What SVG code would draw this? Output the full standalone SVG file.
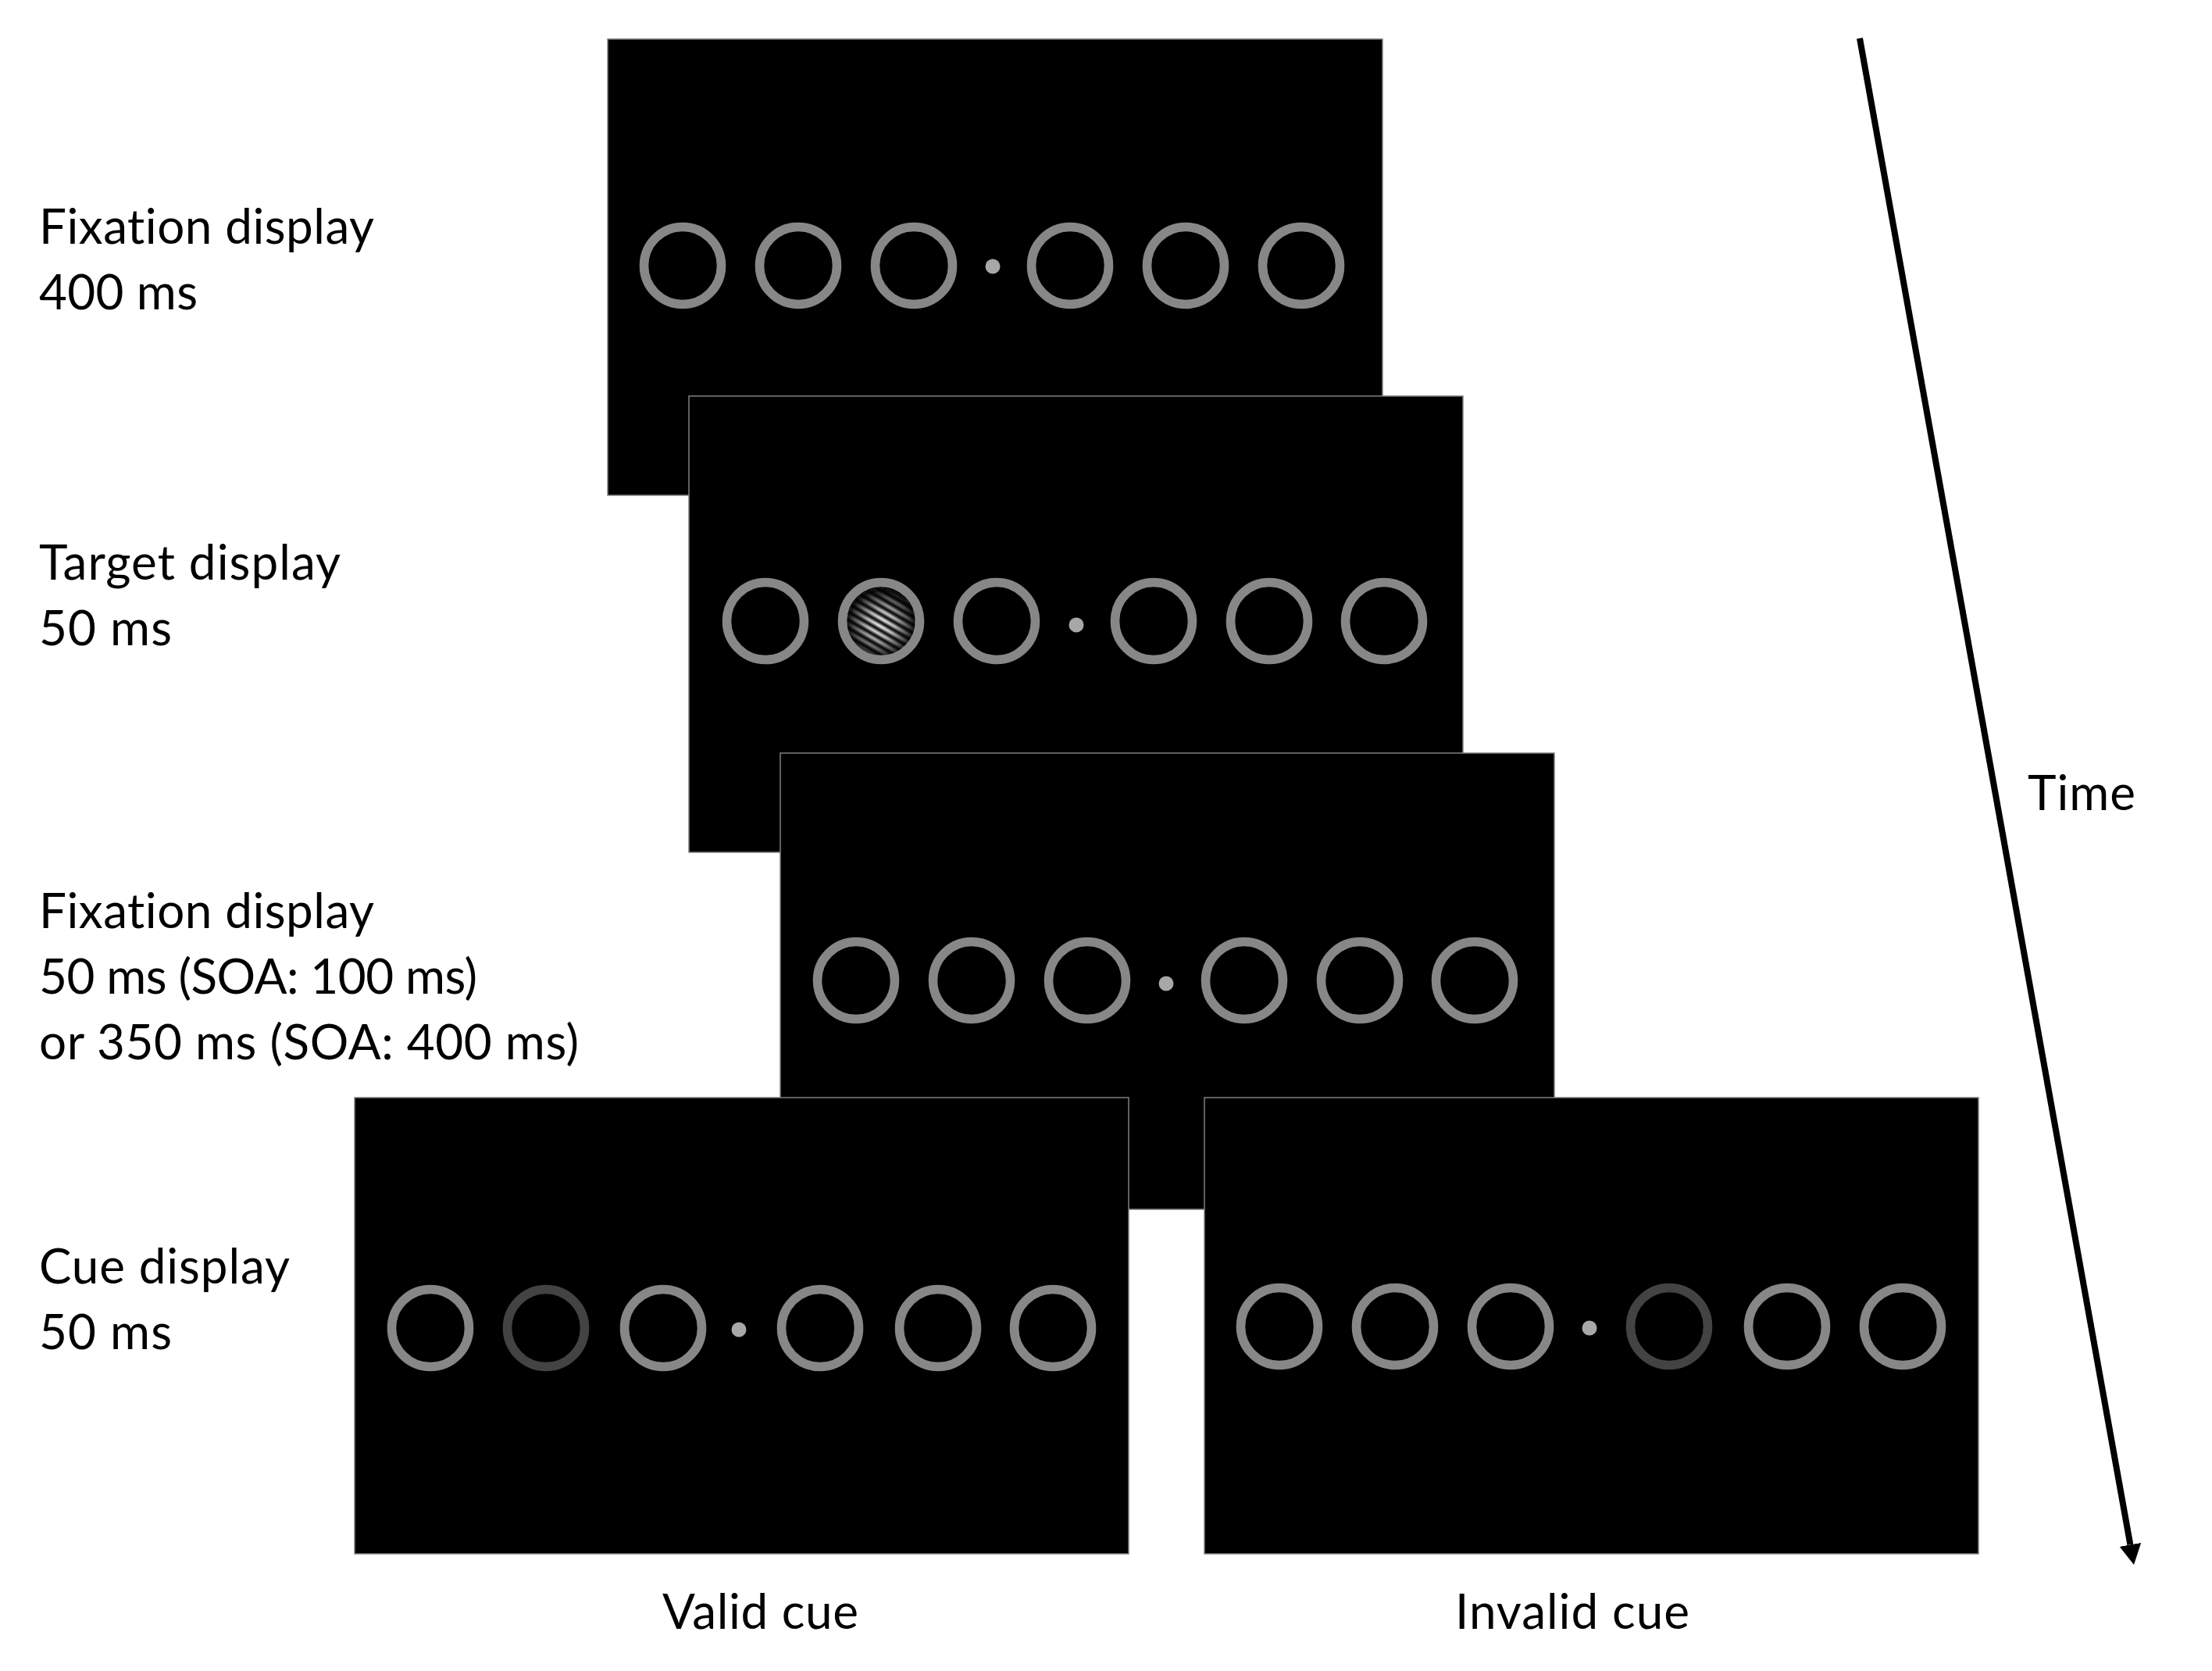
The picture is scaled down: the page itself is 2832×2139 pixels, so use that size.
<svg xmlns="http://www.w3.org/2000/svg" width="2832" height="2139" viewBox="0 0 2832 2139">
  <style>
    .screen { fill: #000000; stroke: #808080; stroke-width: 1.5; }
    .ring { fill: none; stroke: #878787; stroke-width: 11.6; }
    .ring-cue { fill: none; stroke: #434343; stroke-width: 11.6; }
    .dot { fill: #a8a8a8; }
    .label { font-family: Lato, "Open Sans", "Liberation Sans", sans-serif; font-weight: 400; font-size: 62px; fill: #000000; font-variant-ligatures: none; }
    .arrow { stroke: #000000; stroke-width: 8; fill: none; }
  </style>
  <defs>
    <marker id="arrowhead" markerUnits="userSpaceOnUse" viewBox="0 -14 26 28" refX="0" refY="0" markerWidth="26" markerHeight="28" orient="auto">
      <path d="M0,-14 L26,0 L0,14 z" fill="#000000"/>
    </marker>
    <linearGradient id="grating" gradientUnits="userSpaceOnUse" x1="246" y1="290" x2="250.5" y2="282.2" spreadMethod="repeat">
      <stop offset="0" stop-color="#000000"/>
      <stop offset="0.5" stop-color="#ffffff"/>
      <stop offset="1" stop-color="#000000"/>
    </linearGradient>
    <radialGradient id="envelope" gradientUnits="userSpaceOnUse" cx="246" cy="292" r="44">
      <stop offset="0" stop-color="#000000" stop-opacity="0"/>
      <stop offset="0.4" stop-color="#000000" stop-opacity="0.2"/>
      <stop offset="0.8" stop-color="#000000" stop-opacity="0.65"/>
      <stop offset="1" stop-color="#000000" stop-opacity="0.95"/>
    </radialGradient>
    <clipPath id="patchClip">
      <circle cx="246" cy="290" r="43.5"/>
    </clipPath>
  </defs>

  <!-- Panel 1: Fixation display 400 ms -->
  <g id="panel-fixation1" transform="translate(778,50)">
    <rect class="screen" x="0" y="0" width="992" height="584"/>
    <circle class="ring" cx="96" cy="290" r="49.5"/>
    <circle class="ring" cx="244" cy="290" r="49.5"/>
    <circle class="ring" cx="392" cy="290" r="49.5"/>
    <circle class="dot" cx="493" cy="291" r="9.5"/>
    <circle class="ring" cx="592" cy="290" r="49.5"/>
    <circle class="ring" cx="740" cy="290" r="49.5"/>
    <circle class="ring" cx="888" cy="290" r="49.5"/>
  </g>

  <!-- Panel 2: Target display -->
  <g id="panel-target" transform="translate(882,507)">
    <rect class="screen" x="0" y="0" width="991" height="584"/>
    <circle class="ring" cx="98" cy="288" r="49.5"/>
    <g clip-path="url(#patchClip)">
      <rect x="200" y="244" width="92" height="92" fill="url(#grating)"/>
      <rect x="200" y="244" width="92" height="92" fill="url(#envelope)"/>
    </g>
    <circle class="ring" cx="246" cy="288" r="49.5"/>
    <circle class="ring" cx="394" cy="288" r="49.5"/>
    <circle class="dot" cx="496" cy="293" r="9.5"/>
    <circle class="ring" cx="595" cy="288" r="49.5"/>
    <circle class="ring" cx="743" cy="288" r="49.5"/>
    <circle class="ring" cx="890" cy="288" r="49.5"/>
  </g>

  <!-- Panel 3: Fixation display (SOA) -->
  <g id="panel-fixation2" transform="translate(999,964)">
    <rect class="screen" x="0" y="0" width="991" height="584"/>
    <circle class="ring" cx="97" cy="291" r="49.5"/>
    <circle class="ring" cx="245" cy="291" r="49.5"/>
    <circle class="ring" cx="393" cy="291" r="49.5"/>
    <circle class="dot" cx="494" cy="295" r="9.5"/>
    <circle class="ring" cx="594" cy="291" r="49.5"/>
    <circle class="ring" cx="742" cy="291" r="49.5"/>
    <circle class="ring" cx="889" cy="291" r="49.5"/>
  </g>

  <!-- Panel 4: Cue display, valid cue -->
  <g id="panel-cue-valid" transform="translate(454,1405)">
    <rect class="screen" x="0" y="0" width="991" height="584"/>
    <circle class="ring" cx="97" cy="295" r="49.5"/>
    <circle class="ring-cue" cx="245" cy="295" r="49.5"/>
    <circle class="ring" cx="395" cy="295" r="49.5"/>
    <circle class="dot" cx="492" cy="297" r="9.5"/>
    <circle class="ring" cx="596" cy="295" r="49.5"/>
    <circle class="ring" cx="747" cy="295" r="49.5"/>
    <circle class="ring" cx="894" cy="295" r="49.5"/>
  </g>

  <!-- Panel 5: Cue display, invalid cue -->
  <g id="panel-cue-invalid" transform="translate(1542,1405)">
    <rect class="screen" x="0" y="0" width="991" height="584"/>
    <circle class="ring" cx="96" cy="293" r="49.5"/>
    <circle class="ring" cx="244" cy="293" r="49.5"/>
    <circle class="ring" cx="392" cy="293" r="49.5"/>
    <circle class="dot" cx="493" cy="295" r="9.5"/>
    <circle class="ring-cue" cx="595" cy="293" r="49.5"/>
    <circle class="ring" cx="746" cy="293" r="49.5"/>
    <circle class="ring" cx="894" cy="293" r="49.5"/>
  </g>

  <!-- Labels -->
  <g id="label-fixation1">
    <text class="label" x="50" y="312" textLength="429">Fixation display</text>
    <text class="label" x="50" y="396" textLength="203">400 ms</text>
  </g>
  <g id="label-target">
    <text class="label" x="50" y="742" textLength="386">Target display</text>
    <text class="label" x="50" y="826" textLength="170">50 ms</text>
  </g>
  <g id="label-fixation2">
    <text class="label" x="50" y="1188" textLength="429">Fixation display</text>
    <text class="label" x="50" y="1272" textLength="561">50 ms (SOA: 100 ms)</text>
    <text class="label" x="50" y="1356" textLength="691">or 350 ms (SOA: 400 ms)</text>
  </g>
  <g id="label-cue">
    <text class="label" x="50" y="1643" textLength="321">Cue display</text>
    <text class="label" x="50" y="1727" textLength="170">50 ms</text>
  </g>
  <g id="label-valid">
    <text class="label" x="848" y="2085" textLength="251">Valid cue</text>
  </g>
  <g id="label-invalid">
    <text class="label" x="1863" y="2085" textLength="300">Invalid cue</text>
  </g>
  <g id="label-time">
    <text class="label" x="2596" y="1037" textLength="138">Time</text>
  </g>

  <!-- Connectors -->
  <g id="connectors">
    <line class="arrow" x1="2381" y1="49" x2="2727.4" y2="1977.4" marker-end="url(#arrowhead)"/>
  </g>
</svg>
